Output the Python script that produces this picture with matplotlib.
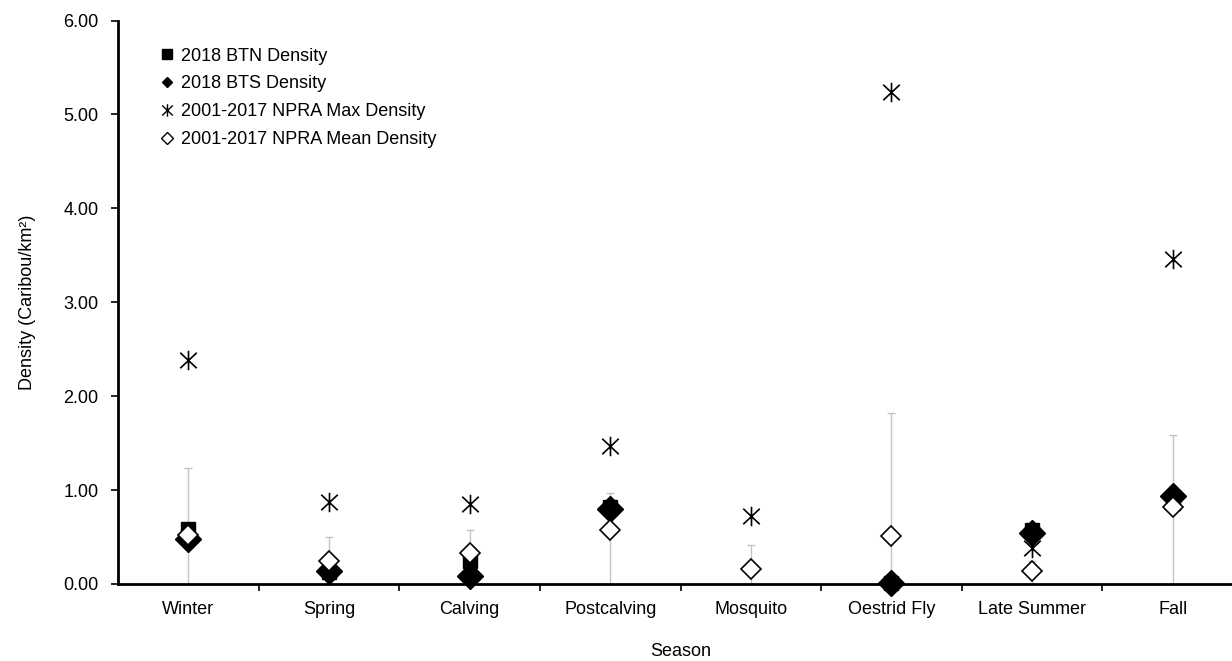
import numpy as np
import matplotlib
matplotlib.use("Agg")
import matplotlib.pyplot as plt
from matplotlib.lines import Line2D
from matplotlib.path import Path

plt.rcParams['font.family'] = ['Liberation Sans', 'DejaVu Sans']

seasons = ["Winter", "Spring", "Calving", "Postcalving", "Mosquito",
           "Oestrid Fly", "Late Summer", "Fall"]
btn_density = [0.59, 0.13, 0.24, 0.82, np.nan, 0.01, 0.575, 0.86]
bts_density = [0.48, 0.14, 0.09, 0.80, np.nan, 0.01, 0.54, 0.94]
npra_max = [2.39, 0.87, 0.85, 1.47, 0.72, 5.24, 0.38, 3.46]
npra_mean = [0.52, 0.25, 0.33, 0.58, 0.16, 0.51, 0.14, 0.82]
npra_upper = [1.235, 0.50, 0.58, 0.966, 0.42, 1.82, 0.245, 1.59]

# Excel-style star marker: an X with a vertical bar through it
star = Path([(0, -1), (0, 1), (-0.85, -0.8), (0.85, 0.8), (-0.85, 0.8), (0.85, -0.8)],
            [Path.MOVETO, Path.LINETO, Path.MOVETO, Path.LINETO, Path.MOVETO, Path.LINETO])

W, H = 1232, 661
fig = plt.figure(figsize=(W / 100, H / 100), dpi=100)
left_px, right_px, top_px, bot_px = 118, 1243, 20.5, 584
ax = fig.add_axes([left_px / W, 1 - bot_px / H,
                   (right_px - left_px) / W, (bot_px - top_px) / H])

x = np.arange(len(seasons))
mean_arr = np.array(npra_mean)
upper_arr = np.array(npra_upper)

ax.errorbar(x, mean_arr, yerr=[mean_arr, upper_arr - mean_arr], fmt='none',
            ecolor='#c4c4c4', elinewidth=1.0, capsize=3, capthick=1.0, zorder=2)

ax.plot(x, btn_density, linestyle='none', marker='s', markersize=10.5,
        color='black', zorder=3, clip_on=False)
ax.plot(x, bts_density, linestyle='none', marker='D', markersize=13,
        color='black', zorder=4, clip_on=False)
ax.plot(x, npra_max, linestyle='none', marker=star, markersize=14,
        markeredgewidth=1.2, color='black', zorder=5, clip_on=False)
ax.plot(x, npra_mean, linestyle='none', marker='D', markersize=10,
        markerfacecolor='white', markeredgecolor='black',
        markeredgewidth=1.2, zorder=6, clip_on=False)

ax.set_xlim(-0.5, len(seasons) - 0.5)
ax.set_ylim(0, 6)
ax.set_yticks(np.arange(0, 6.01, 1.0))
ax.set_yticklabels([f"{v:.2f}" for v in np.arange(0, 6.01, 1.0)])
ax.set_xticks(x)
ax.set_xticklabels(seasons)
ax.set_xticks(np.arange(0.5, len(seasons) - 0.5, 1.0), minor=True)
ax.tick_params(axis='x', which='major', length=0, pad=12, labelsize=13)
ax.tick_params(axis='x', which='minor', length=5, width=1.2, direction='out')
ax.tick_params(axis='y', which='major', length=5, width=1.2, direction='out',
               labelsize=13, pad=9)

for s in ['top', 'right']:
    ax.spines[s].set_visible(False)
for s in ['left', 'bottom']:
    ax.spines[s].set_linewidth(2)
    ax.spines[s].set_zorder(10)

ax.set_xlabel("Season", fontsize=13, labelpad=18)
ax.set_ylabel("Density (Caribou/km²)", fontsize=13, labelpad=20)

handles = [
    Line2D([], [], linestyle='none', marker='s', markersize=7.5, color='black'),
    Line2D([], [], linestyle='none', marker='D', markersize=5, color='black'),
    Line2D([], [], linestyle='none', marker=star, markersize=9,
           markeredgewidth=1.0, color='black'),
    Line2D([], [], linestyle='none', marker='D', markersize=6.5,
           markerfacecolor='white', markeredgecolor='black', markeredgewidth=1.0),
]
labels = ["2018 BTN Density", "2018 BTS Density",
          "2001-2017 NPRA Max Density", "2001-2017 NPRA Mean Density"]
ax.legend(handles, labels, loc='upper left', bbox_to_anchor=(0.037, 0.952),
          frameon=False, fontsize=13, handletextpad=0.4, handlelength=0.8,
          labelspacing=0.6, borderaxespad=0, borderpad=0)

fig.savefig("out.png", dpi=100)
